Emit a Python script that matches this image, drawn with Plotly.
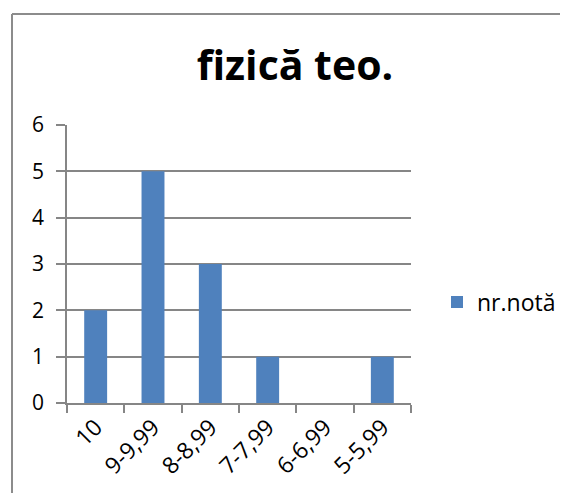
import plotly.graph_objects as go

categories = ["10", "9-9,99", "8-8,99", "7-7,99", "6-6,99", "5-5,99"]
values = [2, 5, 3, 1, 0, 1]
series_name = "nr.notă"
title_text = "fizică teo."

FONT = "Open Sans"
GRID = "#868686"

# The page body has an 8px default margin, so figure coords = page coords - 8
OFF = 8
FW, FH = 568 - 2 * OFF, 501 - 2 * OFF

# plot area in page pixels: x 67..411, y 125..403
L = 67 - OFF
R = FW - (411 - OFF)
T = 125 - OFF
B = FH - (403 - OFF)
W = FW - L - R
H = FH - T - B


def px_x(p):  # page px -> paper x
    return (p - OFF - L) / W


def px_y(p):  # page px -> paper y
    return (FH - B - (p - OFF)) / H


fig = go.Figure()
fig.add_trace(go.Bar(x=categories, y=values, name=series_name,
                     marker=dict(color="#4F81BD", line=dict(width=0))))

border = dict(color="#8C8C8C", width=2)

fig.update_layout(
    width=FW, height=FH,
    margin=dict(l=L, r=R, t=T, b=B, autoexpand=False),
    paper_bgcolor="white", plot_bgcolor="white",
    font=dict(family=FONT, size=22, color="black"),
    bargap=0.6,
    showlegend=True,
    title=dict(text="<b>" + title_text + "</b>", x=(295 - OFF) / FW, xanchor="center",
               y=1 - (66 - OFF) / FH, yanchor="middle", font=dict(size=41, family=FONT)),
    legend=dict(x=px_x(437), xanchor="left", y=px_y(302), yanchor="middle",
                font=dict(size=23, family=FONT), bgcolor="rgba(0,0,0,0)",
                itemwidth=30),
    xaxis=dict(type="category", tickson="boundaries", ticks="outside", ticklen=8,
               tickcolor=GRID, tickwidth=1.5, showline=True, linecolor=GRID, linewidth=1.5,
               tickangle=-45, tickfont=dict(size=23), showgrid=False),
    yaxis=dict(range=[0, 6], dtick=1, ticks="outside", ticklen=9, tickcolor=GRID, tickwidth=1.5,
               showline=True, linecolor=GRID, linewidth=1.5, showgrid=True, gridcolor=GRID,
               gridwidth=1.5, zeroline=False, tickfont=dict(size=21), ticklabelstandoff=8),
    shapes=[
        dict(type="line", xref="paper", yref="paper",
             x0=px_x(12), x1=px_x(560), y0=px_y(14), y1=px_y(14), line=border, layer="below"),
        dict(type="line", xref="paper", yref="paper",
             x0=px_x(12), x1=px_x(12), y0=px_y(14), y1=px_y(493), line=border, layer="below"),
    ],
)

fig.write_html("out.html", config={"displayModeBar": False})
